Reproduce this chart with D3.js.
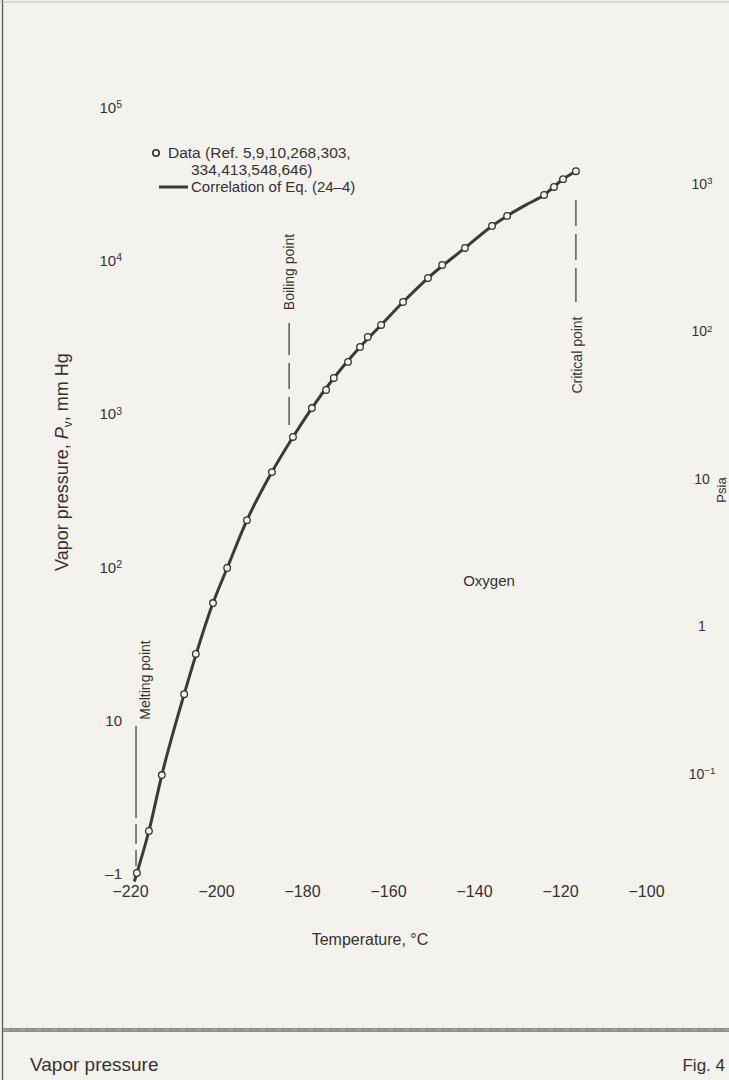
<!DOCTYPE html>
<html>
<head>
<meta charset="utf-8">
<script src="https://cdn.jsdelivr.net/npm/d3@7/dist/d3.min.js"></script>
<style>
  html, body { margin: 0; padding: 0; background: #f4f2ec; }
  svg { display: block; }
  text { font-family: "Liberation Sans", Arial, sans-serif; fill: #333; }
</style>
</head>
<body>
<script>
// ---- data ----
const dataTemp = [-218.4, -215.6, -212.6, -207.4, -204.7, -200.7, -197.4, -192.8, -187.0, -182.1,
  -177.7, -174.4, -172.6, -169.3, -166.5, -164.7, -161.6, -156.5, -150.7, -147.4,
  -142.1, -135.8, -132.3, -123.7, -121.4, -119.3, -116.3];
const dataPres = [1.0, 1.88, 4.36, 14.7, 26.9, 57.8, 97.9, 201, 414, 702,
  1084, 1422, 1702, 2168, 2713, 3154, 3778, 5334, 7651, 9306,
  12020, 16740, 19460, 26680, 30060, 33810, 38100];
const corrTemp = [-219.0, -218.4, -215.6, -212.6, -207.4, -200.7, -197.4, -192.8, -187.0, -182.1,
  -177.7, -172.6, -166.5, -161.6, -156.5, -150.7, -142.1, -135.8, -132.3, -128.0, -123.7, -119.3, -116.3];
const corrPres = [0.88, 1.0, 1.88, 4.36, 14.7, 57.8, 97.9, 201, 414, 702,
  1084, 1702, 2713, 3778, 5334, 7651, 12020, 16740, 19460, 22900, 26680, 33810, 38100];
const xTicks = [-220, -200, -180, -160, -140, -120, -100];
const yTicksMmHg = [1, 10, 100, 1000, 10000, 100000];
const yTickLabels = [["–1", ""], ["10", ""], ["10", "2"], ["10", "3"], ["10", "4"], ["10", "5"]];
const yTicksPsia = [0.1, 1, 10, 100, 1000];
const psiaLabels = [["10", "−1"], ["1", ""], ["10", ""], ["10", "2"], ["10", "3"]];
const meltT = -218.6, boilT = -183.0, critT = -116.3;

const W = 729, H = 1080;
const svg = d3.select("body").append("svg").attr("width", W).attr("height", H);
svg.append("rect").attr("width", W).attr("height", H).attr("fill", "#f4f2ec");

const x = d3.scaleLinear().domain([-220, -100]).range([130, 646]);
const y = d3.scaleLog().domain([1, 100000]).range([873, 107]);
const yR = d3.scaleLog().domain([0.1, 1000]).range([773, 183]);

function supLabel(sel, parts) {
  sel.text(null);
  sel.append("tspan").text(parts[0]);
  if (parts[1]) sel.append("tspan").attr("dy", "-0.45em").attr("font-size", "0.7em").text(parts[1]);
}

// left axis
const gL = svg.append("g").attr("transform", "translate(122,0)")
  .call(d3.axisLeft(y).tickValues(yTicksMmHg).tickSize(0).tickPadding(0).tickFormat(() => ""));
gL.select(".domain").remove();
gL.selectAll(".tick text").each(function(d, i) {
  const t = d3.select(this).attr("x", 0).attr("dy", "0.36em").attr("font-size", 15).attr("fill", "#333").attr("text-anchor", "end");
  supLabel(t, yTickLabels[i]);
});

// right axis (Psia)
const gR = svg.append("g").attr("transform", "translate(702,0)")
  .call(d3.axisRight(yR).tickValues(yTicksPsia).tickSize(0).tickPadding(0).tickFormat(() => ""));
gR.select(".domain").remove();
gR.selectAll(".tick text").each(function(d, i) {
  const t = d3.select(this).attr("x", 0).attr("dy", "0.36em").attr("font-size", 14).attr("fill", "#5a5a5a").attr("text-anchor", "middle");
  supLabel(t, psiaLabels[i]);
});

// bottom axis
const gB = svg.append("g").attr("transform", "translate(0,886)")
  .call(d3.axisBottom(x).tickValues(xTicks).tickSize(0).tickPadding(0).tickFormat(d => "−" + Math.abs(d)));
gB.select(".domain").remove();
gB.selectAll(".tick text").attr("font-size", 16).attr("fill", "#333").attr("dy", "0.71em");

// axis titles
const yt = svg.append("text").attr("transform", "translate(68,462) rotate(-90)")
  .attr("text-anchor", "middle").attr("font-size", 18);
yt.append("tspan").text("Vapor pressure, ");
yt.append("tspan").attr("font-style", "italic").text("P");
yt.append("tspan").attr("font-size", 12).attr("dy", 4).text("v");
yt.append("tspan").attr("dy", -4).text(", mm Hg");

svg.append("text").attr("x", 370).attr("y", 945).attr("text-anchor", "middle").attr("font-size", 16).text("Temperature, °C");
svg.append("text").attr("transform", "translate(721,490) rotate(-90)").attr("text-anchor", "middle")
  .attr("dy", "0.35em").attr("font-size", 13).attr("fill", "#9a9a9a").text("Psia");
svg.append("text").attr("x", 489).attr("y", 586).attr("text-anchor", "middle").attr("font-size", 15).text("Oxygen");

// annotation lines
function vline(T, y1, y2, dash) {
  svg.append("line").attr("x1", x(T)).attr("x2", x(T)).attr("y1", y1).attr("y2", y2)
    .attr("stroke", "#444").attr("stroke-width", 1.3).attr("stroke-dasharray", dash);
}
vline(meltT, 726, 866, "92,6,20,6,20");
vline(boilT, 323, 430, "32,8,26,8,28");
vline(critT, 302, 190, "34,8,26,8,26");
function vtext(px, cy, s) {
  svg.append("text").attr("transform", `translate(${px},${cy}) rotate(-90)`)
    .attr("text-anchor", "middle").attr("dy", "0.35em").attr("font-size", 14).text(s);
}
vtext(x(meltT) + 9, 680, "Melting point");
vtext(x(boilT), 272, "Boiling point");
vtext(x(critT) + 1, 355, "Critical point");

// correlation curve
const line = d3.line().x((d, i) => x(corrTemp[i])).y((d, i) => y(corrPres[i])).curve(d3.curveMonotoneX);
svg.append("path").datum(corrTemp).attr("d", line).attr("fill", "none")
  .attr("stroke", "#3a3a3a").attr("stroke-width", 3);

// data points
svg.append("g").selectAll("circle").data(dataTemp).join("circle")
  .attr("cx", d => x(d)).attr("cy", (d, i) => y(dataPres[i])).attr("r", 3.3)
  .attr("fill", "#f4f2ec").attr("stroke", "#333").attr("stroke-width", 1.3);

// legend
svg.append("circle").attr("cx", 156).attr("cy", 153).attr("r", 3.2).attr("fill", "#f4f2ec").attr("stroke", "#333").attr("stroke-width", 1.6);
svg.append("text").attr("x", 168).attr("y", 158).attr("font-size", 15.5).text("Data (Ref. 5,9,10,268,303,");
svg.append("text").attr("x", 191).attr("y", 175).attr("font-size", 15.5).text("334,413,548,646)");
svg.append("line").attr("x1", 159).attr("x2", 188).attr("y1", 187).attr("y2", 187).attr("stroke", "#3a3a3a").attr("stroke-width", 3);
svg.append("text").attr("x", 191).attr("y", 192).attr("font-size", 15).text("Correlation of Eq. (24–4)");

// page decorations
svg.append("line").attr("x1", 2.5).attr("x2", 2.5).attr("y1", 0).attr("y2", H).attr("stroke", "#555").attr("stroke-width", 1.3);
svg.append("line").attr("x1", 0).attr("x2", W).attr("y1", 2).attr("y2", 2).attr("stroke", "#bbb").attr("stroke-width", 1);
svg.append("rect").attr("x", 3).attr("y", 1028).attr("width", W - 3).attr("height", 4).attr("fill", "#8c8c8c");
svg.append("line").attr("x1", 3).attr("x2", W).attr("y1", 1030).attr("y2", 1030).attr("stroke", "#b5b5b5")
  .attr("stroke-width", 1).attr("stroke-dasharray", "7,3,2,4");
svg.append("text").attr("x", 30).attr("y", 1071).attr("font-size", 19).attr("fill", "#333").text("Vapor pressure");
svg.append("text").attr("x", 725).attr("y", 1071).attr("text-anchor", "end").attr("font-size", 17).attr("fill", "#666").text("Fig. 4");
</script>
</body>
</html>
